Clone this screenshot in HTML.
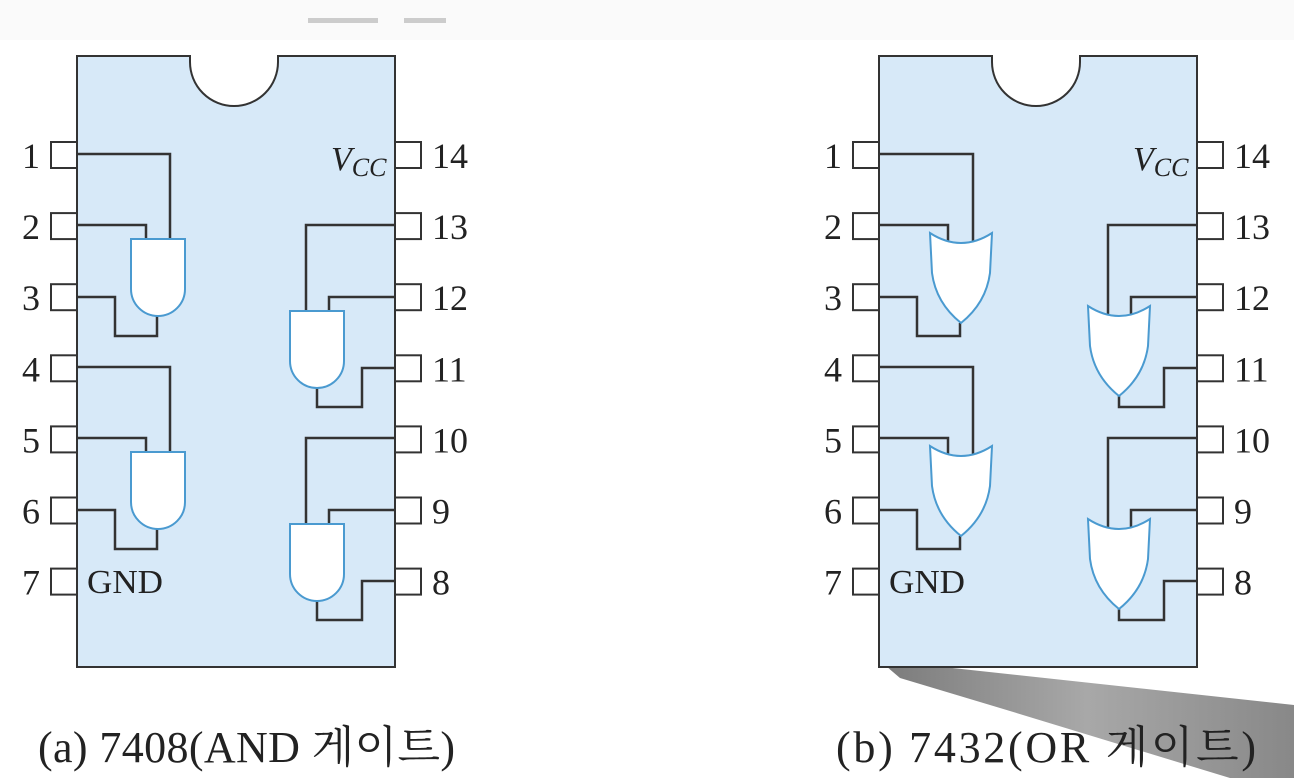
<!DOCTYPE html>
<html><head><meta charset="utf-8">
<style>
html,body{margin:0;padding:0;background:#fff;}
svg{display:block;}
text{font-family:"Liberation Serif","Noto Serif CJK SC","Noto Sans CJK KR",serif;fill:#222;}
</style></head>
<body>
<svg id="s" width="1294" height="778" viewBox="0 0 1294 778">
  <rect x="0" y="0" width="1294" height="40" fill="#fafafa"/>
  <rect x="308" y="18" width="70" height="5" fill="#ccc"/>
  <rect x="404" y="18" width="42" height="5" fill="#ccc"/>
  <defs>
    <linearGradient id="sh" x1="0" y1="0" x2="1" y2="0">
      <stop offset="0" stop-color="#7a7a7a"/><stop offset="0.5" stop-color="#a8a8a8"/><stop offset="1" stop-color="#888"/>
    </linearGradient>
  </defs>
  <polygon points="879,660 1294,705 1294,778 1230,778 1000,708 900,678" fill="url(#sh)"/>
  <g id="chips"></g>
  <text x="38" y="762" font-size="44" textLength="417" lengthAdjust="spacing">(a) 7408(AND 게이트)</text>
  <text x="836" y="762" font-size="44" textLength="420" lengthAdjust="spacing">(b) 7432(OR 게이트)</text>
</svg>
<script>
const NS='http://www.w3.org/2000/svg';
const chipOffsets=[0,802];
const leftPins=['1','2','3','4','5','6','7'];
const rightPins=['14','13','12','11','10','9','8'];
const g=document.getElementById('chips');
function mk(tag,attrs,parent){const e=document.createElementNS(NS,tag);for(const k in attrs)e.setAttribute(k,attrs[k]);(parent||g).appendChild(e);return e;}
const LINE={stroke:'#333','stroke-width':2.5,fill:'none'};
chipOffsets.forEach((ox,ci)=>{
  const grp=mk('g',{transform:'translate('+ox+',0)'});
  
  
  const body=mk('path',{d:'M77 56 H190 V62 A44 44 0 0 0 278 62 V56 H395 V667 H77 Z',fill:'#d7e9f8',stroke:'#333','stroke-width':2},grp);
  
  
  for(let i=0;i<7;i++){
    const cy=155+i*71.1;
    const lp=mk('rect',{x:51,y:cy-13,width:26,height:26,fill:'#fff',stroke:'#333','stroke-width':2},grp);
    
    
    const rp=mk('rect',{x:395,y:cy-13,width:26,height:26,fill:'#fff',stroke:'#333','stroke-width':2},grp);
    
    
    const lt=mk('text',{x:40,y:cy+13,'font-size':36,'text-anchor':'end'},grp);lt.textContent=leftPins[i];
    
    
    const rt=mk('text',{x:432,y:cy+13,'font-size':36},grp);rt.textContent=rightPins[i];
    
    
  }
  const vcc=mk('text',{x:331,y:170,'font-size':34,'font-style':'italic'},grp);
  vcc.innerHTML='V<tspan font-size="26" dy="6">CC</tspan>';
  
  
  const gnd=mk('text',{x:87,y:593,'font-size':34,textLength:76,lengthAdjust:'spacingAndGlyphs'},grp);gnd.textContent='GND';
  
  
  const isOr=ci===1;
  [0,213].forEach((dy,k)=>{
    const top=isOr?233+dy:239+dy, bot=isOr?323+dy:316+dy;
    mk('path',Object.assign({d:`M77 ${154+dy} H${isOr?171:170} V${top+(isOr?8:0)} M77 ${225+dy} H146 V${top+(isOr?8:0)} M${isOr?158:157} ${bot} V${336+dy} H115 V${297+dy} H77`},LINE),grp);
    const gl=mk('path',gatePath(isOr?128:131,top,isOr),grp);
    
    
    const rtop=isOr?306+dy:311+dy, rbot=isOr?396+dy:387+dy;
    mk('path',Object.assign({d:`M395 ${225+dy} H306 V${rtop+(isOr?8:0)} M395 ${297+dy} H329 V${rtop+(isOr?8:0)} M317 ${rbot} V${407+dy} H362 V${368+dy} H395`},LINE),grp);
    const gr=mk('path',gatePath(isOr?286:290,rtop,isOr),grp);
    
    
  });
});
function gatePath(x,y,isOr){
  if(!isOr){
    return {d:`M${x} ${y} H${x+54} V${y+50} A27 27 0 0 1 ${x} ${y+50} Z`,fill:'#fff',stroke:'#4a9ad0','stroke-width':2};
  }
  const w=62;
  return {d:`M${x} ${y} Q${x+w/2} ${y+20} ${x+w} ${y} L${x+w-2} ${y+40} Q${x+w-6} ${y+70} ${x+w/2} ${y+90} Q${x+6} ${y+70} ${x+2} ${y+40} Z`,fill:'#fff',stroke:'#4a9ad0','stroke-width':2};
}
</script>
</body></html>
